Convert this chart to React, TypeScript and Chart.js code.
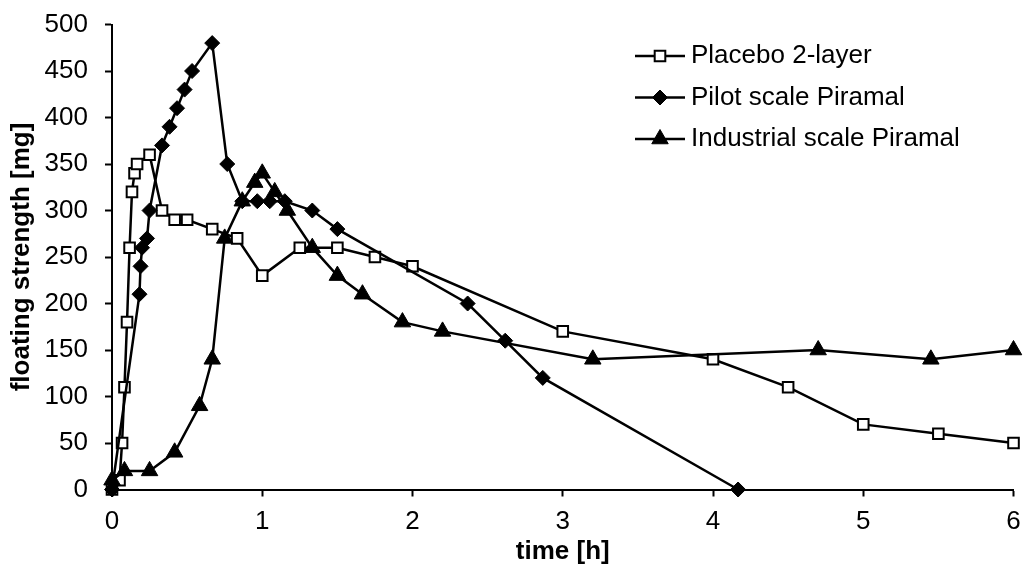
import React, { useEffect, useRef } from 'react';
import { Chart, registerables } from 'chart.js';
import { drawPoint } from 'chart.js/helpers';

Chart.register(...registerables);

const FONT = '"Liberation Sans", Arial, Helvetica, sans-serif';

// Series: Placebo 2-layer (open squares)
const placeboTime = [0, 0.05, 0.067, 0.083, 0.1, 0.117, 0.133, 0.15, 0.167, 0.25, 0.333, 0.417, 0.5, 0.667, 0.833, 1, 1.25, 1.5, 1.75, 2, 3, 4, 4.5, 5, 5.5, 6];
const placeboValue = [0, 10, 50, 110, 180, 260, 320, 340, 350, 360, 300, 290, 290, 280, 270, 230, 260, 260, 250, 240, 170, 140, 110, 70, 60, 50];

// Series: Pilot scale Piramal (filled diamonds)
const pilotTime = [0, 0.183, 0.19, 0.2, 0.233, 0.25, 0.333, 0.383, 0.433, 0.483, 0.533, 0.667, 0.767, 0.867, 0.967, 1.05, 1.15, 1.333, 1.5, 2.367, 2.617, 2.867, 4.167];
const pilotValue = [0, 210, 240, 260, 270, 300, 370, 390, 410, 430, 450, 480, 350, 310, 310, 310, 310, 300, 280, 200, 160, 120, 0];

// Series: Industrial scale Piramal (filled triangles)
const industrialTime = [0, 0.083, 0.25, 0.417, 0.583, 0.667, 0.75, 0.867, 0.95, 1.0, 1.083, 1.167, 1.333, 1.5, 1.667, 1.933, 2.2, 3.2, 4.7, 5.45, 6];
const industrialValue = [10, 20, 20, 40, 90, 140, 270, 310, 330, 340, 320, 300, 260, 230, 210, 180, 170, 140, 150, 140, 150];

const seriesLabels = ['Placebo 2-layer', 'Pilot scale Piramal', 'Industrial scale Piramal'];

const xTitle = 'time [h]';
const yTitle = 'floating strength [mg]';
const xMin = 0, xMax = 6, xStep = 1;
const yMin = 0, yMax = 500, yStep = 50;

const toPoints = (t: number[], v: number[]) => t.map((x, i) => ({ x, y: v[i] }));

const legendPlugin = {
  id: 'manualLegend',
  afterDraw(chart: any) {
    const ctx = chart.ctx as CanvasRenderingContext2D;
    const lineX0 = 635;
    const lineX1 = 685;
    const textX = 691;
    const rowY0 = 56;
    const rowGap = 41.5;
    ctx.save();
    chart.data.datasets.forEach((ds: any, i: number) => {
      const y = rowY0 + i * rowGap;
      ctx.strokeStyle = '#000';
      ctx.lineWidth = ds.borderWidth;
      ctx.beginPath();
      ctx.moveTo(lineX0, y);
      ctx.lineTo(lineX1, y);
      ctx.stroke();
      ctx.fillStyle = ds.pointBackgroundColor;
      ctx.strokeStyle = ds.pointBorderColor;
      ctx.lineWidth = ds.pointBorderWidth;
      drawPoint(ctx, { pointStyle: ds.pointStyle, radius: ds.pointRadius, rotation: 0, borderWidth: ds.pointBorderWidth } as any, (lineX0 + lineX1) / 2, y);
      ctx.fillStyle = '#000';
      ctx.font = `26px ${FONT}`;
      ctx.textAlign = 'left';
      ctx.textBaseline = 'middle';
      ctx.fillText(ds.label, textX, y);
    });
    ctx.restore();
  },
};

export default function App() {
  const canvasRef = useRef<HTMLCanvasElement | null>(null);

  useEffect(() => {
    if (!canvasRef.current) return;
    const common = {
      borderColor: '#000',
      borderWidth: 2.5,
      tension: 0,
      pointBorderColor: '#000',
      clip: false as const,
    };
    const chart = new Chart(canvasRef.current, {
      type: 'line',
      data: {
        datasets: [
          {
            ...common,
            label: seriesLabels[0],
            data: toPoints(placeboTime, placeboValue),
            pointStyle: 'rect',
            pointRadius: 7.5,
            pointBackgroundColor: '#fff',
            pointBorderWidth: 2,
            order: 3,
          },
          {
            ...common,
            label: seriesLabels[1],
            data: toPoints(pilotTime, pilotValue),
            pointStyle: 'rectRot',
            pointRadius: 7.5,
            pointBackgroundColor: '#000',
            pointBorderWidth: 1,
            order: 2,
          },
          {
            ...common,
            label: seriesLabels[2],
            data: toPoints(industrialTime, industrialValue),
            pointStyle: 'triangle',
            pointRadius: 9.5,
            pointBackgroundColor: '#000',
            pointBorderWidth: 1,
            order: 1,
          },
        ] as any,
      },
      options: {
        animation: false,
        responsive: false,
        events: [],
        layout: { padding: { top: 24.5, right: 9, left: 0, bottom: 0 } },
        plugins: {
          legend: { display: false },
          tooltip: { enabled: false },
        },
        scales: {
          x: {
            type: 'linear',
            min: xMin,
            max: xMax,
            ticks: {
              stepSize: xStep,
              color: '#000',
              font: { family: FONT, size: 26, lineHeight: 1.2 },
              padding: 10,
              maxRotation: 0,
            },
            grid: {
              display: true,
              drawOnChartArea: false,
              drawTicks: true,
              tickLength: 7,
              tickWidth: 2,
              tickColor: '#000',
            },
            border: { display: true, color: '#000', width: 2 },
            title: {
              display: true,
              text: xTitle,
              color: '#000',
              font: { family: FONT, size: 26, weight: 'bold', lineHeight: 1 },
              padding: { top: 0, bottom: 0 },
            },
            afterFit: (s: any) => {
              s.height = 75.5;
              s.paddingLeft = 0;
              s.paddingRight = 0;
            },
          },
          y: {
            type: 'linear',
            min: yMin,
            max: yMax,
            ticks: {
              stepSize: yStep,
              color: '#000',
              font: { family: FONT, size: 26, lineHeight: 1.2 },
              padding: 17,
            },
            grid: {
              display: true,
              drawOnChartArea: false,
              drawTicks: true,
              tickLength: 7,
              tickWidth: 2,
              tickColor: '#000',
            },
            border: { display: true, color: '#000', width: 2 },
            title: {
              display: true,
              text: yTitle,
              color: '#000',
              font: { family: FONT, size: 26, weight: 'bold', lineHeight: 1 },
              padding: { top: 9, bottom: 0 },
            },
            afterFit: (s: any) => {
              s.width = 112;
              s.paddingTop = 0;
              s.paddingBottom = 0;
            },
          },
        },
      } as any,
      plugins: [legendPlugin],
    });
    return () => chart.destroy();
  }, []);

  return (
    <div style={{ position: 'fixed', left: 0, top: 0, width: 1024, height: 565, background: '#fff' }}>
      <canvas ref={canvasRef} width={1024} height={565} />
    </div>
  );
}
